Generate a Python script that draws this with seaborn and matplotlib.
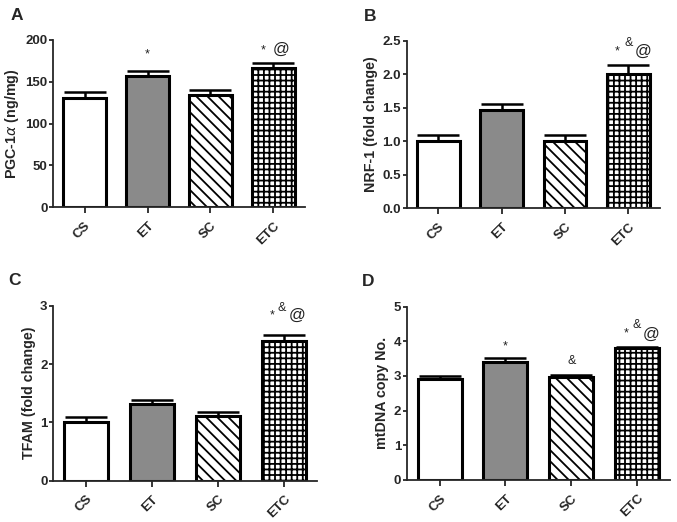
import matplotlib
matplotlib.use("Agg")
import matplotlib.pyplot as plt
import seaborn as sns
import pandas as pd

sns.set_style("ticks")
plt.rcParams['font.family'] = ['Liberation Sans', 'DejaVu Sans']
plt.rcParams['hatch.linewidth'] = 1.3
plt.rcParams['mathtext.fontset'] = 'dejavusans'

groups = ["CS", "ET", "SC", "ETC"]

pgc_mean = [131, 157, 134, 167]
pgc_err = [7, 5.5, 6, 5.5]
nrf_mean = [1.00, 1.46, 1.01, 2.00]
nrf_err = [0.09, 0.10, 0.08, 0.14]
tfam_mean = [1.00, 1.31, 1.11, 2.40]
tfam_err = [0.09, 0.07, 0.06, 0.10]
mtdna_mean = [2.91, 3.41, 2.96, 3.80]
mtdna_err = [0.09, 0.10, 0.06, 0.03]

panels = [
    dict(letter="A", mean=pgc_mean, err=pgc_err, ylabel=r"PGC-1$\alpha$ (ng/mg)",
         ylim=200, yticks=[0, 50, 100, 150, 200], fmt="{:.0f}",
         rect=[0.0783, 0.6034, 0.3722, 0.3200],
         marks={1: [("*", 0, 17, 9)], 3: [("*", -10, 13, 9), ("@", 8, 14, 12)]}),
    dict(letter="B", mean=nrf_mean, err=nrf_err, ylabel="NRF-1 (fold change)",
         ylim=2.5, yticks=[0, 0.5, 1.0, 1.5, 2.0, 2.5], fmt="{:.1f}",
         rect=[0.6007, 0.6010, 0.3743, 0.3210],
         marks={3: [("*", -11, 13, 9), ("&", 0, 22, 9), ("@", 15, 13, 12)]}),
    dict(letter="C", mean=tfam_mean, err=tfam_err, ylabel="TFAM (fold change)",
         ylim=3, yticks=[0, 1, 2, 3], fmt="{:.0f}",
         rect=[0.0783, 0.0791, 0.3900, 0.3353],
         marks={3: [("*", -12, 19, 9), ("&", -2, 27, 9), ("@", 13, 19, 12)]}),
    dict(letter="D", mean=mtdna_mean, err=mtdna_err, ylabel="mtDNA copy No.",
         ylim=5, yticks=[0, 1, 2, 3, 4, 5], fmt="{:.0f}",
         rect=[0.6007, 0.0805, 0.3890, 0.3320],
         marks={1: [("*", 0, 12, 9)], 2: [("&", 0, 14, 9)],
                3: [("*", -11, 14, 9), ("&", 0, 22, 9), ("@", 14, 13, 12)]}),
]

facecolors = ["white", "#8a8a8a", "white", "white"]
hatches = [None, None, "\\\\\\", "+++"]

fig = plt.figure(figsize=(6.77, 5.22), dpi=100)

for p in panels:
    ax = fig.add_axes(p["rect"])
    df = pd.DataFrame({"group": groups, "value": p["mean"]})
    sns.barplot(data=df, x="group", y="value", ax=ax, order=groups,
                width=0.67, errorbar=None, color="white",
                edgecolor="black", linewidth=2.2)
    bars = ax.patches
    centers = []
    for bar, fc, h in zip(bars, facecolors, hatches):
        bar.set_facecolor(fc)
        if h:
            bar.set_hatch(h)
        centers.append(bar.get_x() + bar.get_width() / 2)
    ax.errorbar(centers, p["mean"], yerr=[[0] * 4, p["err"]], fmt="none",
                ecolor="black", elinewidth=1.8, capsize=15, capthick=1.8,
                zorder=1)
    for i, lst in p["marks"].items():
        top = p["mean"][i] + p["err"][i]
        for txt, dx, dy, fs in lst:
            ax.annotate(txt, xy=(centers[i], top), xytext=(dx * 0.72, dy * 0.72),
                        textcoords="offset points", ha="center", va="center",
                        fontsize=fs, color="#222222")
    ax.set_xlim(-0.5, 3.5)
    ax.set_ylim(0, p["ylim"])
    ax.set_yticks(p["yticks"])
    ax.set_yticklabels([p["fmt"].format(t) for t in p["yticks"]],
                       fontsize=9.5, fontweight="bold")
    ax.set_xticks(range(4))
    ax.set_xticklabels(groups, fontsize=9.5, fontweight="bold", rotation=45,
                       ha="right", rotation_mode="anchor")
    ax.set_xlabel("")
    ax.set_ylabel(p["ylabel"], fontsize=10.3, fontweight="bold", labelpad=3)
    sns.despine(ax=ax)
    for s in ["left", "bottom"]:
        ax.spines[s].set_linewidth(1.3)
    ax.tick_params(axis="y", width=1.3, length=3, pad=1)
    ax.tick_params(axis="x", width=1.3, length=4, pad=5)
    ax.text(-0.17, 1.10, p["letter"], transform=ax.transAxes,
            fontsize=12.5, fontweight="bold", ha="left", va="bottom")

fig.savefig("out.png", dpi=100)
